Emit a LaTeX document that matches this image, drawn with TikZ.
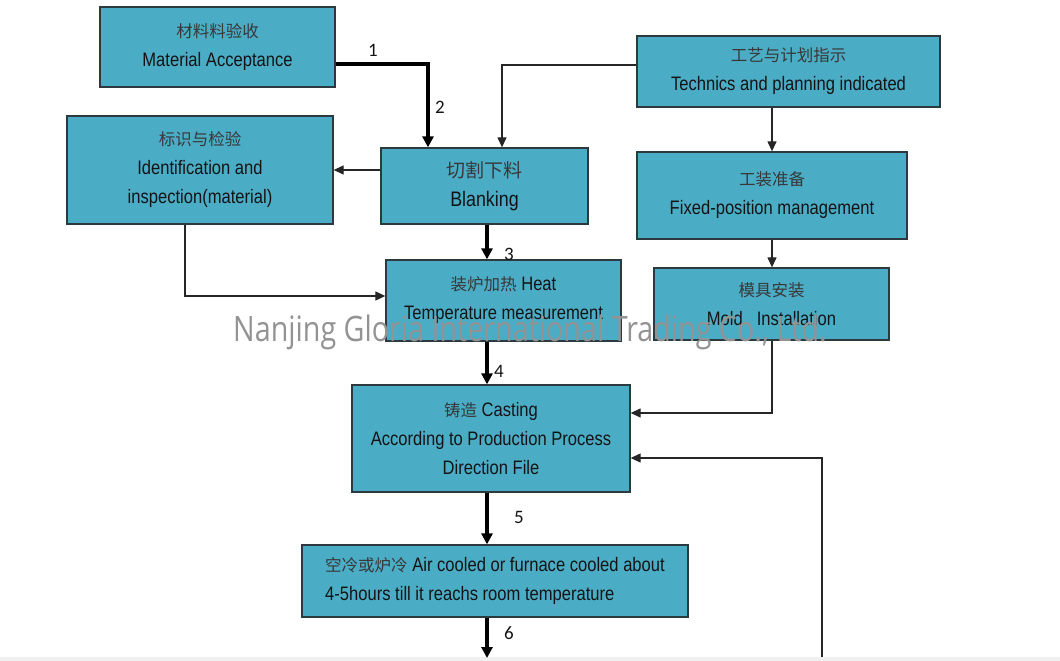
\documentclass[tikz,border=0pt]{standalone}
\usepackage{fontspec}
\setmainfont[FakeStretch=0.85]{Liberation Sans}
\newfontfamily\cjk{Noto Sans CJK SC}
\newfontfamily\numfont{Carlito}
\newfontfamily\wmfont[FakeStretch=0.82]{Open Sans}
\usetikzlibrary{arrows.meta}
\definecolor{boxfill}{HTML}{4BACC6}
\definecolor{boxline}{HTML}{2B3A3F}
\definecolor{txt}{HTML}{141414}
\definecolor{zhtxt}{HTML}{383838}
\definecolor{wm}{HTML}{939393}
\newcommand\zh[1]{{\cjk\color{zhtxt}\fontsize{16.5}{29}\selectfont #1}}
\begin{document}
\begin{tikzpicture}[x=1pt,y=-1pt,
  box/.style={draw=boxline, line width=1.3pt, fill=boxfill, inner sep=0pt,
    align=center, text=txt, font=\fontsize{19.5}{29}\selectfont},
  flowthick/.style={line width=3.8pt, -{Triangle[length=11pt,width=11pt]}},
  flowthin/.style={line width=1.2pt, draw=black!85, -{Triangle[length=10pt,width=9pt]}},
  lbl/.style={font=\numfont\fontsize{19}{19}\selectfont, text=txt, inner sep=0pt}
]
\useasboundingbox[fill=white] (0,0) rectangle (1060,661);
\fill[black!6] (0,657) rectangle (1060,661);

\node[box, minimum width=235pt, minimum height=80pt] (ma) at (217.5,47)
  {\zh{材料料验收}\\Material Acceptance};
\node[box, minimum width=266pt, minimum height=108pt] (id) at (200,170)
  {\zh{标识与检验}\\Identification and\\inspection(material)};
\node[box, minimum width=207pt, minimum height=76pt] (bl) at (484.5,186)
  {{\cjk\color{zhtxt}\fontsize{19}{29}\selectfont 切割下料}\\{\fontsize{21}{29}\selectfont Blanking}};
\node[box, minimum width=303pt, minimum height=71pt] (te) at (788.5,71.5)
  {\zh{工艺与计划指示}\\Technics and planning indicated};
\node[box, minimum width=270pt, minimum height=87pt] (fp) at (772,195.5)
  {\zh{工装准备}\\Fixed-position management};
\node[box, minimum width=235pt, minimum height=72pt] (mo) at (771.5,304)
  {\zh{模具安装}\\Mold\hspace{14pt}Installation};
\node[box, minimum width=235pt, minimum height=81pt] (he) at (503.5,300.5)
  {\zh{装炉加热} Heat\\Temperature measurement};
\node[box, minimum width=278pt, minimum height=107pt] (ca) at (491,438.5)
  {\zh{铸造} Casting\\According to Production Process\\Direction File};
\node[box, minimum width=386pt, minimum height=72pt, align=left] (ai) at (495,581)
  {\zh{空冷或炉冷} Air cooled or furnace cooled about\\4-5hours till it reachs room temperature};

\coordinate (axis) at (487,0);
\coordinate (rb) at (822,657);
\coordinate (bend) at (487,658);

% thick main flow
\draw[flowthick] (ma.east |- 0,64) -| ([xshift=-56.5pt]bl.north);
\draw[flowthick] (bl.south -| axis) -- (he.north -| axis);
\draw[flowthick] (he.south -| axis) -- (ca.north -| axis);
\draw[flowthick] (ca.south -| axis) -- (ai.north -| axis);
\draw[flowthick] (ai.south -| axis) -- (bend);

% thin connectors
\draw[flowthin] (te.west |- 0,65) -| ([xshift=17.5pt]bl.north);
\draw[flowthin] (bl.west |- 0,170) -- (id.east |- 0,170);
\draw[flowthin] (id.south -| 185,0) |- (he.west |- 0,296);
\draw[flowthin] (te.south -| fp.north) -- (fp.north);
\draw[flowthin] (fp.south) -- (fp.south |- mo.north);
\draw[flowthin] (mo.south -| fp.south) |- (ca.east |- 0,413);
\draw[flowthin] (rb) |- (ca.east |- 0,458);

% step labels
\node[lbl] (l1) at (373,50) {1};
\node[lbl] (l2) at (440,107) {2};
\node[lbl] (l3) at (509,254) {3};
\node[lbl] (l4) at (499,371) {4};
\node[lbl] (l5) at (519,517) {5};
\node[lbl] (l6) at (509,633) {6};

% watermark
\node[font=\wmfont\fontsize{35}{35}\selectfont, text=wm, inner sep=0pt] (wmk) at (530,332)
  {Nanjing Gloria International Trading Co., Ltd.};
\end{tikzpicture}
\end{document}
